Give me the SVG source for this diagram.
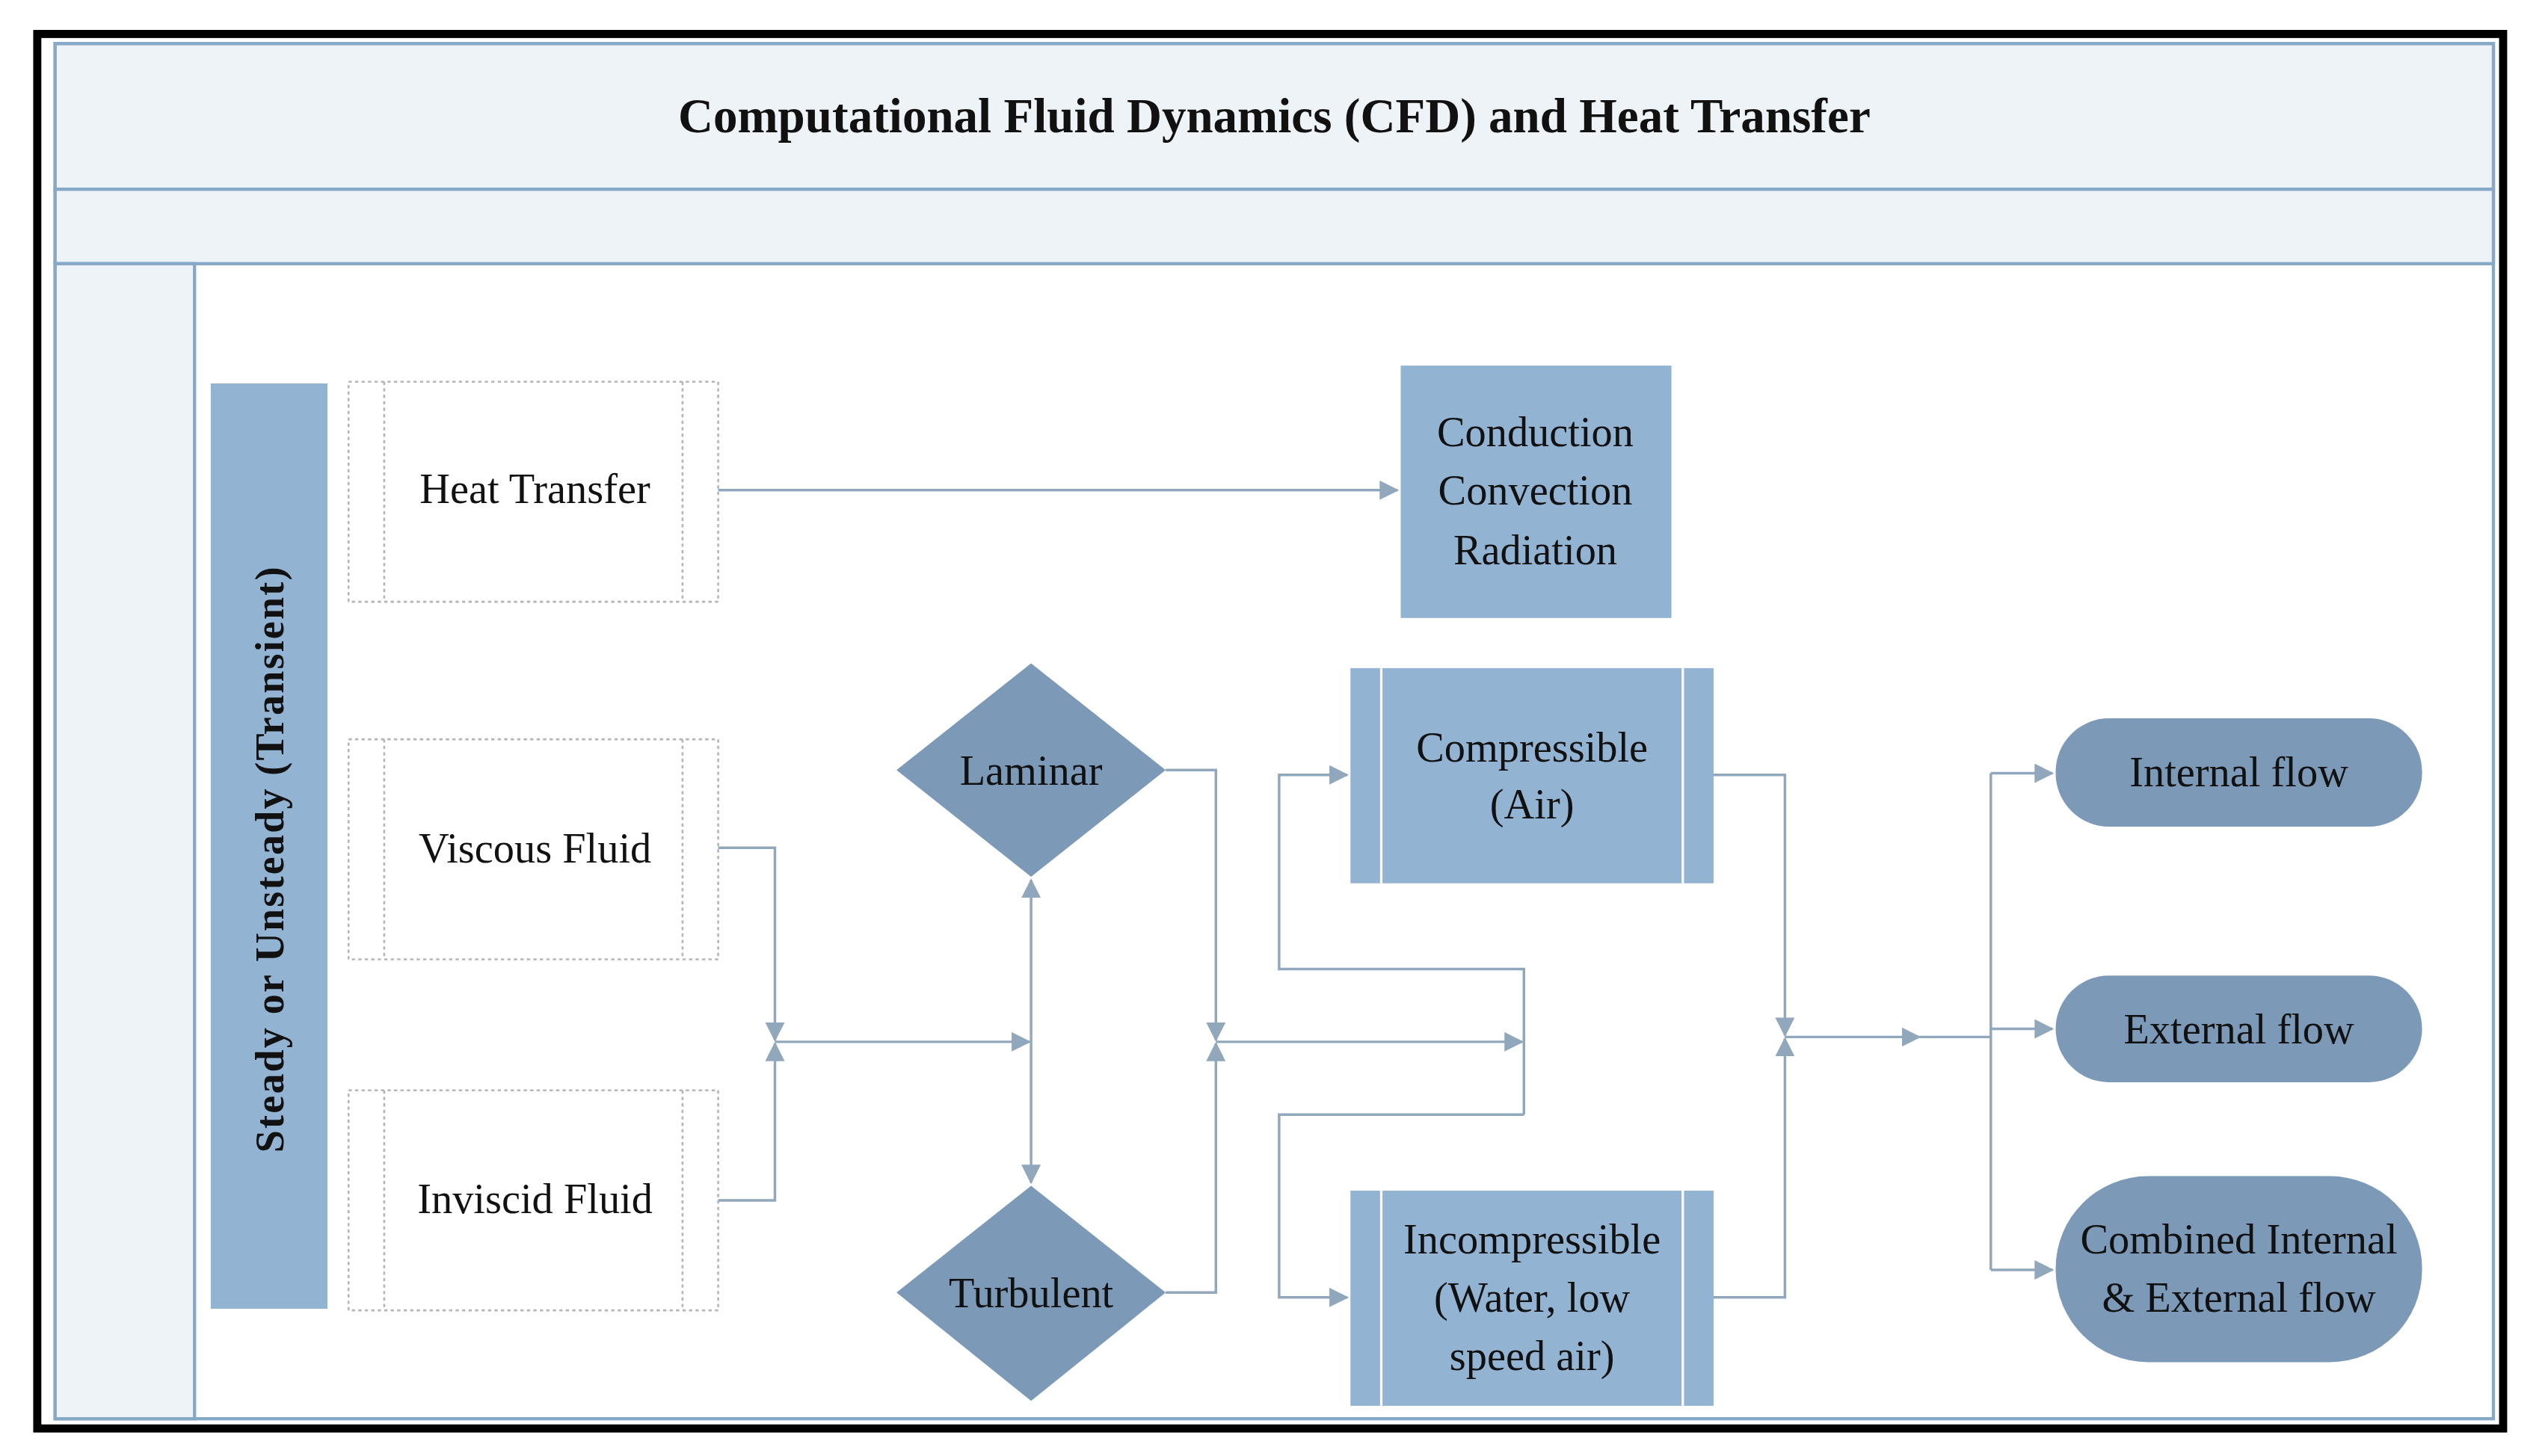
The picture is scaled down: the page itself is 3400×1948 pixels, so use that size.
<svg xmlns="http://www.w3.org/2000/svg" width="3400" height="1948" viewBox="0 0 3400 1948">
<style>
.t{font-family:"Liberation Serif",serif;font-size:26px;fill:#111;text-anchor:middle}
.box{fill:#93b3d3}
.dk{fill:#7c99b7}
.ln{fill:none;stroke:#91a7bb;stroke-width:1.6}
.dash{fill:#fff;stroke:#b5b5b5;stroke-width:1.2;stroke-dasharray:2 2}
.band{fill:#eef3f8;stroke:#86a9c8;stroke-width:2}
</style>
<defs>
<marker id="a" markerUnits="userSpaceOnUse" markerWidth="12" markerHeight="12" refX="11" refY="6" orient="auto"><path d="M0,0 L12,6 L0,12 Z" fill="#91a7bb"/></marker>
</defs>
<rect width="3400" height="1948" fill="#fff"/>
<g transform="scale(2.1684 2.1644)">
<g id="frame">
<rect x="34" y="27" width="1504" height="850" fill="#fff" stroke="#86a9c8" stroke-width="2"/>
<rect x="34" y="27" width="1504" height="90" class="band"/>
<rect x="34" y="117" width="1504" height="46" class="band"/>
<rect x="34" y="163" width="86" height="714" class="band"/>
<text x="786" y="82" class="t" style="font-size:30px;font-weight:bold">Computational Fluid Dynamics (CFD) and Heat Transfer</text>
<rect x="23" y="21" width="1521" height="862" fill="none" stroke="#000" stroke-width="5"/>
</g>
<g id="steady">
<rect x="130" y="237" width="72" height="572" class="box"/>
<text transform="translate(175,531) rotate(-90)" class="t" style="font-size:25px;font-weight:bold;letter-spacing:1px">Steady or Unsteady (Transient)</text>
</g>
<g id="heat"><rect x="215" y="236" width="228" height="136" class="dash"/><line x1="237" y1="236" x2="237" y2="372" class="dash"/><line x1="421" y1="236" x2="421" y2="372" class="dash"/><text x="330" y="311" class="t">Heat Transfer</text></g>
<g id="viscous"><rect x="215" y="457" width="228" height="136" class="dash"/><line x1="237" y1="457" x2="237" y2="593" class="dash"/><line x1="421" y1="457" x2="421" y2="593" class="dash"/><text x="330" y="533" class="t">Viscous Fluid</text></g>
<g id="inviscid"><rect x="215" y="674" width="228" height="136" class="dash"/><line x1="237" y1="674" x2="237" y2="810" class="dash"/><line x1="421" y1="674" x2="421" y2="810" class="dash"/><text x="330" y="750" class="t">Inviscid Fluid</text></g>
<g id="modes"><rect x="864" y="226" width="167" height="156" class="box"/><text x="947" y="276" class="t">Conduction</text><text x="947" y="312" class="t">Convection</text><text x="947" y="349" class="t">Radiation</text></g>
<g id="laminar"><polygon points="553,476 636,410 719,476 636,542" class="dk"/><text x="636" y="485" class="t">Laminar</text></g>
<g id="turbulent"><polygon points="553,799 636,733 719,799 636,866" class="dk"/><text x="636" y="808" class="t">Turbulent</text></g>
<g id="compressible"><rect x="833" y="413" width="224" height="133" class="box"/><line x1="852" y1="413" x2="852" y2="546" stroke="#fff" stroke-width="1.5"/><line x1="1038" y1="413" x2="1038" y2="546" stroke="#fff" stroke-width="1.5"/><text x="945" y="471" class="t">Compressible</text><text x="945" y="506" class="t">(Air)</text></g>
<g id="incompressible"><rect x="833" y="736" width="224" height="133" class="box"/><line x1="852" y1="736" x2="852" y2="869" stroke="#fff" stroke-width="1.5"/><line x1="1038" y1="736" x2="1038" y2="869" stroke="#fff" stroke-width="1.5"/><text x="945" y="775" class="t">Incompressible</text><text x="945" y="811" class="t">(Water, low</text><text x="945" y="847" class="t">speed air)</text></g>
<g id="internal"><rect x="1268" y="444" width="226" height="67" rx="33" class="dk"/><text x="1381" y="486" class="t">Internal flow</text></g>
<g id="external"><rect x="1268" y="603" width="226" height="66" rx="33" class="dk"/><text x="1381" y="645" class="t">External flow</text></g>
<g id="combined"><rect x="1268" y="727" width="226" height="115" rx="57" class="dk"/><text x="1381" y="775" class="t">Combined Internal</text><text x="1381" y="811" class="t">&amp; External flow</text></g>
<g id="connectors">
<path d="M443,303 H862" class="ln" marker-end="url(#a)"/>
<path d="M443,524 H478 V643" class="ln" marker-end="url(#a)"/>
<path d="M443,742 H478 V645" class="ln" marker-end="url(#a)"/>
<path d="M478,644 H635" class="ln" marker-end="url(#a)"/>
<path d="M636,640 V544" class="ln" marker-end="url(#a)"/>
<path d="M636,640 V731" class="ln" marker-end="url(#a)"/>
<path d="M719,476 H750 V643" class="ln" marker-end="url(#a)"/>
<path d="M719,799 H750 V645" class="ln" marker-end="url(#a)"/>
<path d="M750,644 H939" class="ln" marker-end="url(#a)"/>
<path d="M940,689 V599 H789 V479 H831" class="ln" marker-end="url(#a)"/>
<path d="M940,689 H789 V802 H831" class="ln" marker-end="url(#a)"/>
<path d="M1057,479 H1101 V640" class="ln" marker-end="url(#a)"/>
<path d="M1057,802 H1101 V642" class="ln" marker-end="url(#a)"/>
<path d="M1101,641 H1184" class="ln" marker-end="url(#a)"/>
<path d="M1184,641 H1228" class="ln"/>
<path d="M1228,478 V785" class="ln"/>
<path d="M1228,478 H1266" class="ln" marker-end="url(#a)"/>
<path d="M1228,636 H1266" class="ln" marker-end="url(#a)"/>
<path d="M1228,785 H1266" class="ln" marker-end="url(#a)"/>
</g>
</g>
</svg>
